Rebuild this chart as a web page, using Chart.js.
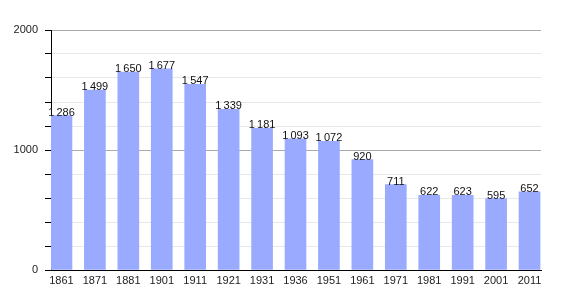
<!DOCTYPE html>
<html>
<head>
<meta charset="utf-8">
<script src="https://cdn.jsdelivr.net/npm/chart.js@4/dist/chart.umd.min.js"></script>
<style>
html,body{margin:0;padding:0;background:#fff;}
#wrap{width:570px;height:300px;position:relative;}
</style>
</head>
<body>
<div id="wrap"><canvas id="c"></canvas></div>
<script>
const years = ['1861','1871','1881','1901','1911','1921','1931','1936','1951','1961','1971','1981','1991','2001','2011'];
const population = [1286, 1499, 1650, 1677, 1547, 1339, 1181, 1093, 1072, 920, 711, 622, 623, 595, 652];
const yTickLabels = [0, 1000, 2000];

function fmt(v){
  const s = String(v);
  return s.length > 3 ? s.slice(0, s.length-3) + '\u2009' + s.slice(s.length-3) : s;
}

const valueLabels = {
  id: 'valueLabels',
  afterDatasetsDraw(chart){
    const ctx = chart.ctx;
    const meta = chart.getDatasetMeta(0);
    ctx.save();
    ctx.font = '11px "Liberation Sans", Arial, sans-serif';
    ctx.fillStyle = '#111';
    ctx.textAlign = 'center';
    ctx.textBaseline = 'alphabetic';
    meta.data.forEach((bar, i) => {
      ctx.fillText(fmt(population[i]), bar.x, bar.y);
    });
    ctx.restore();
  }
};

new Chart(document.getElementById('c'), {
  type: 'bar',
  data: {
    datasets: [{
      data: population.map((v, i) => ({x: i, y: v})),
      backgroundColor: '#99aaff',
      borderWidth: 0,
      barThickness: 21
    }]
  },
  options: {
    responsive: true,
    maintainAspectRatio: false,
    animation: false,
    layout: {padding: {top: 30, right: 29, left: 0, bottom: 0}},
    plugins: {legend: {display: false}, tooltip: {enabled: false}},
    scales: {
      x: {
        type: 'linear',
        offset: false,
        min: -0.313,
        max: 14.343,
        grid: {display: false, drawTicks: false, offset: false},
        border: {display: true, color: '#000', width: 1},
        ticks: {
          stepSize: 1,
          includeBounds: false,
          autoSkip: false,
          maxRotation: 0,
          padding: 4,
          color: '#222',
          font: {family: '"Liberation Sans", Arial, sans-serif', size: 11},
          callback: (v) => Number.isInteger(v) ? years[v] : ''
        },
        afterFit(s){ s.height = 30; }
      },
      y: {
        min: 0,
        max: 2000,
        grid: {
          color: (c) => (c.tick && c.tick.value % 1000 === 0) ? '#aaaaaa' : '#e8e8e8',
          tickColor: '#000',
          tickLength: 6,
          drawTicks: true
        },
        border: {display: true, color: '#000', width: 1},
        ticks: {
          stepSize: 200,
          padding: 7,
          color: '#222',
          font: {family: '"Liberation Sans", Arial, sans-serif', size: 11},
          callback: (v) => yTickLabels.includes(v) ? String(v) : ''
        },
        afterFit(s){ s.width = 51; }
      }
    }
  },
  plugins: [valueLabels]
});
</script>
</body>
</html>
